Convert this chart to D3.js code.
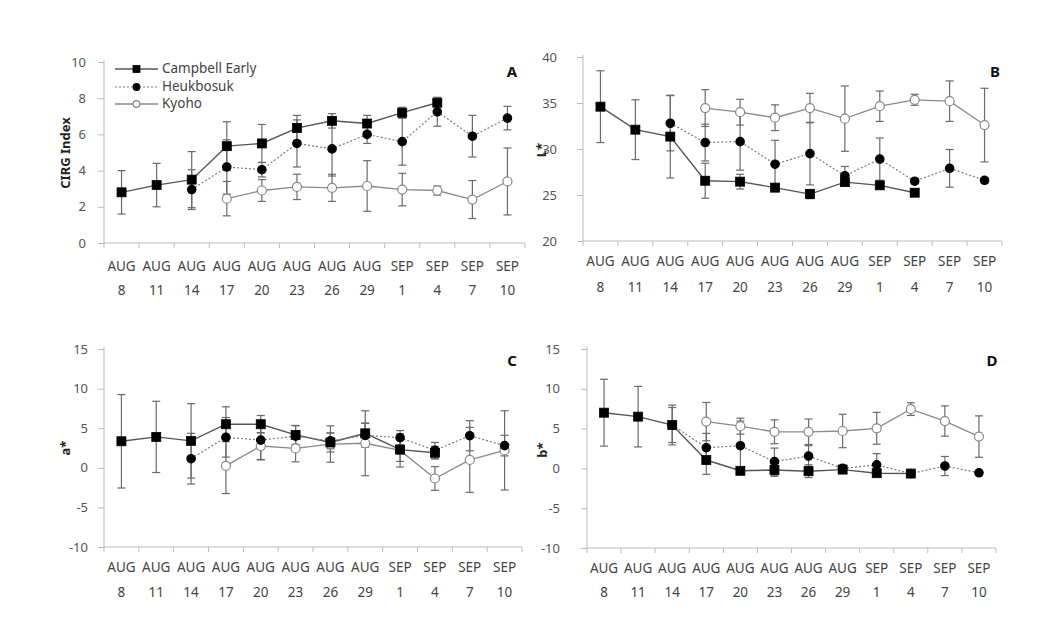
<!DOCTYPE html>
<html>
<head>
<meta charset="utf-8">
<script src="https://cdn.jsdelivr.net/npm/d3@7/dist/d3.min.js"></script>
<style>
  html, body { margin: 0; padding: 0; background: #fff; }
  svg text { font-family: "Noto Sans", "DejaVu Sans", sans-serif; }
</style>
</head>
<body>
<svg id="chart" width="1057" height="619"></svg>
<script>
// ---------- data ----------
const months = ["AUG","AUG","AUG","AUG","AUG","AUG","AUG","AUG","SEP","SEP","SEP","SEP"];
const days = ["8","11","14","17","20","23","26","29","1","4","7","10"];
const seriesNames = ["Campbell Early", "Heukbosuk", "Kyoho"];

// Panel A: CIRG Index
const ceA    = [2.8, 3.2, 3.5, 5.35, 5.5, 6.35, 6.75, 6.6, 7.2, 7.75, null, null];
const ceAErr = [1.2, 1.2, 1.55, 1.35, 1.05, 0.7, 0.4, 0.45, 0.3, 0.15, null, null];
const hbA    = [null, null, 2.95, 4.2, 4.05, 5.5, 5.2, 6.0, 5.6, 7.25, 5.9, 6.9];
const hbAErr = [null, null, 1.1, 1.5, 0.4, 1.3, 1.5, 0.5, 1.3, 0.8, 1.15, 0.65];
const kyA    = [null, null, null, 2.45, 2.9, 3.1, 3.05, 3.15, 2.95, 2.9, 2.4, 3.4];
const kyAErr = [null, null, null, 0.95, 0.6, 0.7, 0.75, 1.4, 0.9, 0.25, 1.05, 1.85];

// Panel B: L*
const ceB    = [34.6, 32.1, 31.35, 26.55, 26.45, 25.8, 25.1, 26.4, 26.05, 25.25, null, null];
const ceBErr = [3.9, 3.25, 4.5, 1.9, 0.8, 0.3, 0.5, 0.4, 0.3, 0.3, null, null];
const hbB    = [null, null, 32.8, 30.7, 30.8, 28.35, 29.5, 27.1, 28.9, 26.5, 27.9, 26.6];
const hbBErr = [null, null, 3.0, 2.0, 3.1, 2.6, 3.4, 1.0, 2.3, 0.3, 2.05, 0.3];
const kyB    = [null, null, null, 34.45, 34.0, 33.4, 34.45, 33.3, 34.65, 35.35, 35.2, 32.6];
const kyBErr = [null, null, null, 2.0, 1.4, 1.4, 1.6, 3.55, 1.65, 0.6, 2.2, 4.0];

// Panel C: a*
const ceC    = [3.35, 3.9, 3.4, 5.5, 5.5, 4.15, 3.2, 4.35, 2.3, 1.9, null, null];
const ceCErr = [5.9, 4.5, 4.7, 2.2, 1.1, 1.2, 1.2, 1.3, 1.5, 0.8, null, null];
const hbC    = [null, null, 1.15, 3.85, 3.5, 4.0, 3.4, 4.1, 3.8, 2.2, 4.05, 2.8];
const hbCErr = [null, null, 3.2, 2.5, 2.5, 1.3, 1.0, 1.5, 0.9, 1.0, 1.9, 1.3];
const kyC    = [null, null, null, 0.25, 2.75, 2.45, 3.0, 3.1, 2.2, -1.35, 1.0, 2.2];
const kyCErr = [null, null, null, 3.5, 1.7, 1.7, 2.3, 4.1, 2.1, 1.5, 4.1, 5.0];

// Panel D: b*
const ceD    = [7.0, 6.5, 5.45, 1.05, -0.3, -0.2, -0.35, -0.15, -0.6, -0.65, null, null];
const ceDErr = [4.2, 3.8, 2.5, 1.8, 0.3, 0.8, 0.8, 0.3, 0.3, 0.3, null, null];
const hbD    = [null, null, 5.45, 2.6, 2.85, 0.85, 1.55, 0.0, 0.45, -0.65, 0.3, -0.55];
const hbDErr = [null, null, 2.2, 1.8, 3.1, 1.7, 1.3, 0.4, 1.4, 0.3, 1.2, 0.3];
const kyD    = [null, null, null, 5.88, 5.3, 4.6, 4.6, 4.7, 5.04, 7.45, 5.95, 4.0];
const kyDErr = [null, null, null, 2.4, 1.0, 1.5, 1.6, 2.1, 2.0, 0.8, 1.9, 2.6];

// y-axis tick values
const ticksA = [0, 2, 4, 6, 8, 10];
const ticksB = [20, 25, 30, 35, 40];
const ticksCD = [-10, -5, 0, 5, 10, 15];

// ---------- layout & style ----------
const svg = d3.select("#chart");
const cats = d3.range(12);

const styles = [
  { line: "#555", width: 1.4, dash: null, shape: "square", fill: "#000", stroke: "#000", size: 9 },
  { line: "#7a7a7a", width: 1.2, dash: "2,2", shape: "circle", fill: "#000", stroke: "#000", size: 4.2 },
  { line: "#8a8a8a", width: 1.3, dash: null, shape: "circle", fill: "#fff", stroke: "#888", size: 4.5 }
];

const panels = [
  { x0: 104, x1: 525, yT: 62, yB: 243, domain: [0, 10], ticks: ticksA, labGap: 18,
    title: "CIRG Index", tx: 66, ty: 153, letter: "A", lx: 512, ly: 73, lab1: 24, lab2: 48,
    series: [[ceA, ceAErr], [hbA, hbAErr], [kyA, kyAErr]], legend: true },
  { x0: 583, x1: 1002, yT: 57, yB: 241, domain: [20, 40], ticks: ticksB, labGap: 26,
    title: "L*", tx: 542, ty: 150, letter: "B", lx: 995, ly: 73, lab1: 21, lab2: 47,
    series: [[ceB, ceBErr], [hbB, hbBErr], [kyB, kyBErr]] },
  { x0: 104, x1: 522, yT: 349, yB: 547, domain: [-10, 15], ticks: ticksCD, labGap: 16,
    title: "a*", tx: 66, ty: 448, letter: "C", lx: 512, ly: 362, lab1: 21, lab2: 46,
    series: [[ceC, ceCErr], [hbC, hbCErr], [kyC, kyCErr]] },
  { x0: 587, x1: 996, yT: 349, yB: 548, domain: [-10, 15], ticks: ticksCD, labGap: 27,
    title: "b*", tx: 543, ty: 450, letter: "D", lx: 992, ly: 362, lab1: 21, lab2: 45,
    series: [[ceD, ceDErr], [hbD, hbDErr], [kyD, kyDErr]] }
];

function drawMarker(g, st, x, y) {
  if (st.shape === "square") {
    g.append("rect").attr("x", x - st.size / 2).attr("y", y - st.size / 2)
      .attr("width", st.size).attr("height", st.size)
      .attr("fill", st.fill).attr("stroke", st.stroke).attr("stroke-width", 0.8);
  } else {
    g.append("circle").attr("cx", x).attr("cy", y).attr("r", st.size)
      .attr("fill", st.fill).attr("stroke", st.stroke).attr("stroke-width", 1.2);
  }
}

panels.forEach(p => {
  const x = d3.scaleBand().domain(cats).range([p.x0, p.x1]).padding(0);
  const y = d3.scaleLinear().domain(p.domain).range([p.yB, p.yT]);
  const g = svg.append("g");
  const cx = i => x(i) + x.bandwidth() / 2;

  // axes
  const yAxis = d3.axisLeft(y).tickValues(p.ticks).tickSize(6).tickPadding(p.labGap - 6)
    .tickFormat(d => String(d));
  const ya = g.append("g").attr("transform", `translate(${p.x0},0)`).call(yAxis);
  ya.select(".domain").attr("stroke", "#bbb").attr("d", `M0,${p.yT - 2}V${p.yB}`);
  ya.selectAll(".tick line").attr("stroke", "#bbb");
  ya.selectAll(".tick text").attr("fill", "#555").style("font-size", "13px");

  g.append("line").attr("x1", p.x0).attr("x2", p.x1).attr("y1", p.yB).attr("y2", p.yB)
    .attr("stroke", "#bbb");
  d3.range(13).forEach(i => {
    const xx = i < 12 ? x(i) : p.x1;
    g.append("line").attr("x1", xx).attr("x2", xx).attr("y1", p.yB).attr("y2", p.yB + 5)
      .attr("stroke", "#bbb");
  });
  cats.forEach(i => {
    g.append("text").attr("x", cx(i)).attr("y", p.yB + p.lab1).attr("text-anchor", "middle")
      .attr("dominant-baseline", "middle").attr("fill", "#444").style("font-size", "13.5px")
      .text(months[i]);
    g.append("text").attr("x", cx(i)).attr("y", p.yB + p.lab2).attr("text-anchor", "middle")
      .attr("dominant-baseline", "middle").attr("fill", "#444").style("font-size", "13.5px")
      .text(days[i]);
  });

  // y title
  g.append("text").attr("transform", `translate(${p.tx},${p.ty}) rotate(-90)`)
    .attr("text-anchor", "middle").attr("dominant-baseline", "middle")
    .attr("fill", "#222").style("font-size", "13px").style("font-weight", "bold")
    .text(p.title);
  // panel letter
  g.append("text").attr("x", p.lx).attr("y", p.ly).attr("text-anchor", "middle")
    .attr("dominant-baseline", "middle").attr("fill", "#111")
    .style("font-size", "15px").style("font-weight", "bold").text(p.letter);

  // error bars
  p.series.forEach(([vals, errs]) => {
    vals.forEach((v, i) => {
      if (v == null) return;
      const e = errs[i];
      const gx = cx(i);
      g.append("line").attr("x1", gx).attr("x2", gx).attr("y1", y(v - e)).attr("y2", y(v + e))
        .attr("stroke", "#6a6a6a").attr("stroke-width", 1.2);
      [v - e, v + e].forEach(w => {
        g.append("line").attr("x1", gx - 4).attr("x2", gx + 4).attr("y1", y(w)).attr("y2", y(w))
          .attr("stroke", "#6a6a6a").attr("stroke-width", 1.2);
      });
    });
  });

  // lines
  p.series.forEach(([vals], si) => {
    const st = styles[si];
    const line = d3.line().defined(d => d.v != null).x(d => cx(d.i)).y(d => y(d.v));
    g.append("path").datum(vals.map((v, i) => ({ v, i })))
      .attr("d", line).attr("fill", "none").attr("stroke", st.line)
      .attr("stroke-width", st.width).attr("stroke-dasharray", st.dash);
  });

  // markers (draw Kyoho first so filled markers sit on top)
  [2, 1, 0].forEach(si => {
    const st = styles[si];
    p.series[si][0].forEach((v, i) => {
      if (v == null) return;
      drawMarker(g, st, cx(i), y(v));
    });
  });

  if (p.legend) {
    const lx0 = 115, lx1 = 158, ly = [69, 87, 104];
    seriesNames.forEach((name, si) => {
      const st = styles[si];
      g.append("line").attr("x1", lx0).attr("x2", lx1).attr("y1", ly[si]).attr("y2", ly[si])
        .attr("stroke", st.line).attr("stroke-width", st.width).attr("stroke-dasharray", st.dash);
      const ms = Object.assign({}, st, { size: st.shape === "square" ? 7 : 3.3 });
      drawMarker(g, ms, (lx0 + lx1) / 2, ly[si]);
      g.append("text").attr("x", lx1 + 4).attr("y", ly[si]).attr("dominant-baseline", "middle")
        .attr("fill", "#444").style("font-size", "13.5px").text(name);
    });
  }
});
</script>
</body>
</html>
